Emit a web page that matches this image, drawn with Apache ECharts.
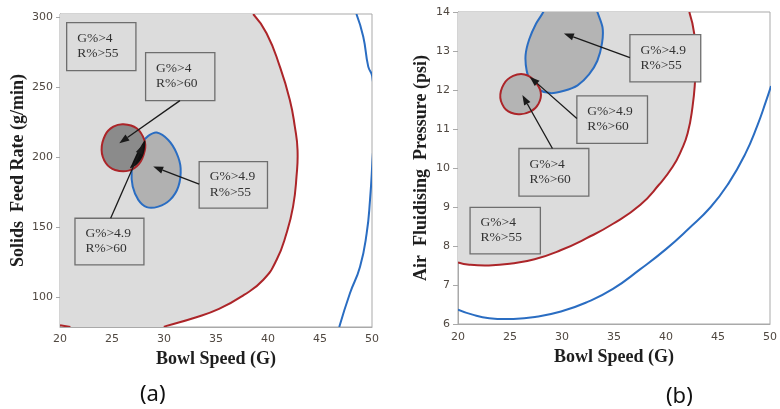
<!DOCTYPE html>
<html><head><meta charset="utf-8">
<script src="https://cdn.jsdelivr.net/npm/echarts@6/dist/echarts.min.js"></script>
<style>html,body{margin:0;padding:0;background:#fff}#c{width:780px;height:409px}</style>
</head><body><div id="c"></div>
<script>
// ---- ticks ----
const xTicks = [20, 25, 30, 35, 40, 45, 50];
const yTicksA = [100, 150, 200, 250, 300];
const yTicksB = [6, 7, 8, 9, 10, 11, 12, 13, 14];

// ---- panel (a): Bowl Speed (G) vs Solids Feed Rate (g/min) ----
const aRedOuter = [[38.57,302.6],[39.86,288.9],[41.14,265],[42.1,241.2],[42.58,222.1],[42.84,205.5],[42.74,186.4],[42.41,165],[41.78,146],[40.82,126.9],[39.53,112.6],[37.69,101.9],[35.29,91.9],[32.8,85.3],[30.25,79.8],[29.99,79]];
const aRedCorner = [[20,80.3],[21,79]];
const aBlueOuter = [[48.5,302.6],[49.16,286.4],[49.64,265],[50.03,257.9],[50.25,230],[50.03,196],[49.81,169.8],[49.49,146],[48.85,122.1],[47.88,103.1],[46.85,79]];
const aRedSmall = [[26.1,223.9],[27.37,221],[28.11,212.6],[28.15,205],[27.6,195.5],[26.6,190.7],[25.3,191.2],[24.42,196],[24.0,205.5],[24.35,216.2],[25.13,222.1]];
const aBlueSmall = [[29.3,217.9],[30.41,212.6],[31.22,203.1],[31.6,192.4],[31.38,179.3],[30.58,169.8],[29.45,165],[28.34,164.6],[27.53,169.8],[26.99,179.3],[26.89,190],[27.21,200.7],[27.86,210.3],[28.49,215.5]];
const aOverlap = [[28.17,212.4],[28.15,206],[27.9,200],[27.4,195],[26.75,192.4],[26.95,196],[27.25,201],[27.65,206.5]];

// ---- panel (b): Bowl Speed (G) vs Air Fluidising Pressure (psi) ----
const bRedOuter = [[42.24,14],[42.71,13.45],[42.87,12.76],[42.8,12.25],[42.55,11.57],[42.08,10.89],[41.48,10.46],[40.64,10.03],[39.32,9.57],[37.54,9.06],[34.91,8.57],[32.37,8.2],[29.86,7.89],[27.36,7.66],[25.16,7.55],[22.97,7.5],[21.09,7.52],[20,7.58]];
const bBlueOuter = [[20,6.37],[21.4,6.24],[23.0,6.15],[25.2,6.13],[27.4,6.18],[29.9,6.32],[32.4,6.56],[34.9,6.9],[37.5,7.4],[40.0,7.92],[42.2,8.45],[44.3,9.0],[46.0,9.6],[47.6,10.35],[48.8,11.1],[49.6,11.7],[50.1,12.1]];
const bRedSmall = [[26.4,12.4],[27.3,12.25],[27.95,11.95],[27.75,11.65],[27.0,11.45],[25.8,11.38],[24.6,11.5],[24.07,11.8],[24.4,12.15],[25.3,12.36]];
const bBlueSmall = [[28.2,14],[27.5,13.7],[26.85,13.3],[26.5,12.9],[26.6,12.5],[27.0,12.2],[27.8,12.0],[28.9,11.92],[30.2,11.98],[31.5,12.12],[32.6,12.4],[33.4,12.75],[33.85,13.2],[33.9,13.6],[33.4,14],[33.0,14.3],[28.6,14.3]];

// ---- annotation texts ----
const annTextA = [['G%>4','R%>55'],['G%>4','R%>60'],['G%>4.9','R%>55'],['G%>4.9','R%>60']];
const annTextB = [['G%>4.9','R%>55'],['G%>4.9','R%>60'],['G%>4','R%>60'],['G%>4','R%>55']];
</script>
<script>
const RED = '#ac2529', BLUE = '#2a6dc2', BG = '#dcdcdc';
// layout of annotation boxes and arrows (in each panel's data coordinates)
const annLayoutA = [
  {box:[20.64,296.4,27.3,262.1]},
  {box:[28.23,275,34.89,240.7], arrow:[31.53,240.7,25.7,210.3]},
  {box:[33.38,197.1,39.95,163.9], arrow:[33.38,181,28.96,193.6]},
  {box:[21.44,156.7,28.07,123.4], arrow:[24.87,156.7,28.0,209.6]}
];
const annLayoutB = [
  {box:[36.53,13.42,43.34,12.21], arrow:[36.53,12.83,30.18,13.45]},
  {box:[31.43,11.85,38.22,10.63], arrow:[31.43,11.27,26.89,12.34]},
  {box:[25.86,10.5,32.58,9.28], arrow:[29.08,10.5,26.19,11.87]},
  {box:[21.16,8.99,27.92,7.8]}
];

function shapeSeries(g, pts, opt) {
  return {
    type: 'custom', xAxisIndex: g, yAxisIndex: g, clip: true, silent: true, z: opt.z || 2,
    data: [[pts[0][0], pts[0][1]]],
    renderItem: function (params, api) {
      const p = pts.map(function (d) { return api.coord(d); });
      return {
        type: opt.closed ? 'polygon' : 'polyline',
        shape: { points: p, smooth: opt.smooth || 0 },
        style: opt.closed
          ? { fill: opt.fill || 'none', stroke: opt.stroke || 'none', lineWidth: opt.lw || 0 }
          : { fill: 'none', stroke: opt.stroke, lineWidth: opt.lw || 2 }
      };
    }
  };
}
function fillFrom(top, contour, tail) { return [top].concat(contour, tail); }

function annSeries(g, texts, layout) {
  return {
    type: 'custom', xAxisIndex: g, yAxisIndex: g, clip: false, silent: true, z: 10,
    data: layout.map(function (l) { return [l.box[0], l.box[1]]; }),
    renderItem: function (params, api) {
      const L = layout[params.dataIndex], T = texts[params.dataIndex];
      const p1 = api.coord([L.box[0], L.box[1]]), p2 = api.coord([L.box[2], L.box[3]]);
      const ch = [
        { type: 'rect', shape: { x: p1[0], y: p1[1], width: p2[0]-p1[0], height: p2[1]-p1[1] },
          style: { fill: BG, stroke: '#6e6e6e', lineWidth: 1.3 } },
        { type: 'text', style: { text: T.join('\n'), x: p1[0] + 10.5, y: (p1[1]+p2[1])/2 - 0.5,
          align: 'left', verticalAlign: 'middle', lineHeight: 15.5,
          font: '13.5px "Liberation Serif"', fill: '#333' } }
      ];
      if (L.arrow) {
        const a = api.coord([L.arrow[0], L.arrow[1]]), b = api.coord([L.arrow[2], L.arrow[3]]);
        const dx = b[0]-a[0], dy = b[1]-a[1], len = Math.sqrt(dx*dx+dy*dy);
        const ux = dx/len, uy = dy/len, hl = 10, hw = 3.6;
        const base = [b[0]-ux*hl, b[1]-uy*hl];
        ch.push({ type: 'line', shape: { x1: a[0], y1: a[1], x2: base[0], y2: base[1] },
          style: { stroke: '#1a1a1a', lineWidth: 1.3 } });
        ch.push({ type: 'polygon', shape: { points: [b, [base[0]-uy*hw, base[1]+ux*hw], [base[0]+uy*hw, base[1]-ux*hw]] },
          style: { fill: '#1a1a1a' } });
      }
      return { type: 'group', children: ch };
    }
  };
}

const labelStyle = { color: '#504841', fontSize: 11, fontFamily: 'DejaVu Sans' };
const nameStyle = { fontFamily: 'Liberation Serif', fontWeight: 'bold', fontSize: 18, color: '#1e1e1e' };
const frame = '#a9a9a9';

function xAx(g, gap, margin) {
  return { gridIndex: g, type: 'value', min: 20, max: 50, interval: 5,
    axisLine: { show: true, lineStyle: { color: frame } }, axisTick: { show: false }, splitLine: { show: false },
    axisLabel: Object.assign({ margin: margin, customValues: xTicks }, labelStyle),
    name: 'Bowl Speed (G)', nameLocation: 'middle', nameGap: gap, nameTextStyle: nameStyle };
}

const chart = echarts.init(document.getElementById('c'), null, { renderer: 'canvas' });
chart.setOption({
  animation: false,
  backgroundColor: '#fff',
  grid: [
    { left: 60, top: 14, width: 312, height: 313, show: true, borderColor: frame, borderWidth: 1, backgroundColor: '#fff' },
    { left: 458, top: 12, width: 320, height: 312, show: true, borderColor: frame, borderWidth: 1, backgroundColor: '#fff' }
  ],
  xAxis: [xAx(0, 20, 7), xAx(1, 21, 8)],
  yAxis: [
    { gridIndex: 0, type: 'value', min: 79, max: 302.6,
      axisLine: { show: true, lineStyle: { color: frame } },
      axisTick: { show: true, length: 4, customValues: yTicksA, lineStyle: { color: frame } },
      splitLine: { show: false },
      axisLabel: Object.assign({ margin: 7, customValues: yTicksA }, labelStyle),
      name: 'Solids  Feed Rate (g/min)', nameLocation: 'middle', nameGap: 33, nameTextStyle: nameStyle },
    { gridIndex: 1, type: 'value', min: 6, max: 14, interval: 1,
      axisLine: { show: true, lineStyle: { color: frame } },
      axisTick: { show: true, length: 5, customValues: yTicksB, lineStyle: { color: frame } },
      splitLine: { show: false },
      axisLabel: Object.assign({ margin: 8, customValues: yTicksB }, labelStyle),
      name: 'Air  Fluidising  Pressure (psi)', nameLocation: 'middle', nameGap: 28, nameTextStyle: nameStyle }
  ],
  series: [
    // panel a
    shapeSeries(0, fillFrom([20,302.6], aRedOuter, [[21,79],[20,80.3]]), { closed: true, fill: BG, z: 1 }),
    shapeSeries(0, aBlueSmall, { closed: true, smooth: 0.3, fill: '#b1b1b1', stroke: BLUE, lw: 2, z: 2 }),
    shapeSeries(0, aRedSmall, { closed: true, smooth: 0.3, fill: '#8b8b8b', stroke: RED, lw: 2, z: 3 }),
    shapeSeries(0, aOverlap, { closed: true, smooth: 0.3, fill: '#111', z: 4 }),
    shapeSeries(0, aRedOuter, { stroke: RED, lw: 2, smooth: 0.5, z: 3 }),
    shapeSeries(0, aRedCorner, { stroke: RED, lw: 2, z: 3 }),
    shapeSeries(0, aBlueOuter, { stroke: BLUE, lw: 2, smooth: 0.5, z: 3 }),
    annSeries(0, annTextA, annLayoutA),
    // panel b
    shapeSeries(1, fillFrom([20,14], bRedOuter, []), { closed: true, fill: BG, z: 1 }),
    shapeSeries(1, bBlueSmall, { closed: true, smooth: 0.3, fill: '#b4b4b4', stroke: BLUE, lw: 2, z: 2 }),
    shapeSeries(1, bRedSmall, { closed: true, smooth: 0.3, fill: '#b4b4b4', stroke: RED, lw: 2, z: 3 }),
    shapeSeries(1, bRedOuter, { stroke: RED, lw: 2, smooth: 0.5, z: 3 }),
    shapeSeries(1, bBlueOuter, { stroke: BLUE, lw: 2, smooth: 0.5, z: 3 }),
    annSeries(1, annTextB, annLayoutB)
  ],
  graphic: [
    { type: 'text', left: 140, top: 384, style: { text: '(a)', font: '22px "Noto Sans"', fill: '#111' } },
    { type: 'text', left: 666, top: 386, style: { text: '(b)', font: '22px "Noto Sans"', fill: '#111' } }
  ]
});
</script>
</body></html>
